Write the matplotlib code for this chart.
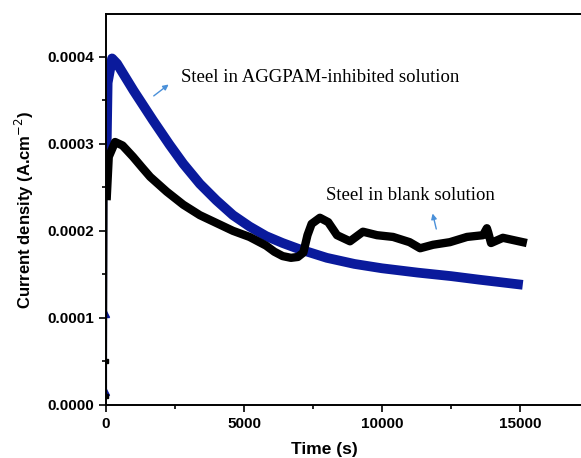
import numpy as np
import matplotlib.pyplot as plt
from matplotlib.ticker import MultipleLocator, FormatStrFormatter

# 阻害剤あり(青)
t_inh = [20, 60, 220, 400, 1000, 1700, 2300, 2800, 3400, 4000, 4600, 5200, 5800,
         6400, 7000, 8000, 9000, 10000, 11300, 12500, 13500, 14300, 15100]
j_inh = [2.9e-4, 3.7e-4, 3.98e-4, 3.92e-4, 3.61e-4, 3.27e-4, 2.99e-4, 2.77e-4,
         2.54e-4, 2.35e-4, 2.18e-4, 2.05e-4, 1.94e-4, 1.86e-4, 1.79e-4, 1.69e-4,
         1.62e-4, 1.57e-4, 1.52e-4, 1.48e-4, 1.44e-4, 1.41e-4, 1.38e-4]
t_inh_start = [0, 0, 10]
j_inh_start = [0.15e-4, 1.05e-4, 2.9e-4]

# ブランク(黒)
t_blank = [30, 100, 330, 600, 980, 1300, 1600, 2200, 2800, 3400, 4000, 4600, 5200,
           5800, 6100, 6400, 6700, 6950, 7150, 7300, 7450, 7750, 8050, 8370, 8840,
           9310, 9820, 10400, 11000, 11380, 11850, 12460, 13080, 13660, 13800,
           13850, 13950, 14380, 15100]
j_blank = [2.4e-4, 2.85e-4, 3.02e-4, 2.98e-4, 2.85e-4, 2.73e-4, 2.62e-4, 2.45e-4,
           2.30e-4, 2.18e-4, 2.09e-4, 2.00e-4, 1.93e-4, 1.83e-4, 1.76e-4, 1.71e-4,
           1.69e-4, 1.70e-4, 1.75e-4, 1.95e-4, 2.08e-4, 2.15e-4, 2.10e-4, 1.95e-4,
           1.88e-4, 1.99e-4, 1.95e-4, 1.93e-4, 1.87e-4, 1.80e-4, 1.84e-4, 1.87e-4,
           1.93e-4, 1.95e-4, 2.03e-4, 1.98e-4, 1.86e-4, 1.92e-4, 1.87e-4]
t_blank_start = [0, 0, 20]
j_blank_start = [0.1e-4, 0.5e-4, 2.4e-4]

blue = '#0a1a9c'
arrow_c = '#4a90d9'

fig = plt.figure(figsize=(5.81, 4.58), dpi=100)
ax = fig.add_axes([106/581, 53/458, 483/581, 391/458])

ax.plot(t_inh_start, j_inh_start, color=blue, lw=1.5, marker='^', ms=4, zorder=2)
ax.plot(t_inh, j_inh, color=blue, lw=7, solid_capstyle='butt',
        solid_joinstyle='round', zorder=2)
ax.plot(t_blank_start, j_blank_start, color='black', lw=1.5, marker='s', ms=3, zorder=3)
ax.plot(t_blank, j_blank, color='black', lw=6, solid_joinstyle='round', zorder=3)

ax.set_xlim(0, 17500)
ax.set_ylim(0, 0.000449)
ax.xaxis.set_major_locator(MultipleLocator(5000))
ax.xaxis.set_minor_locator(MultipleLocator(2500))
ax.yaxis.set_major_locator(MultipleLocator(0.0001))
ax.yaxis.set_minor_locator(MultipleLocator(0.00005))
ax.yaxis.set_major_formatter(FormatStrFormatter('%.4f'))
ax.tick_params(which='major', direction='out', length=5, width=1.2)
ax.tick_params(which='minor', direction='out', length=3, width=1.2)
for s in ax.spines.values():
    s.set_linewidth(1.4)

for lab in ax.get_xticklabels() + ax.get_yticklabels():
    lab.set_family('Liberation Sans')
    lab.set_weight('bold')
    lab.set_size(11)

ax.set_xlabel('Time (s)', family='Liberation Sans', weight='bold', size=12.5)
ax.set_ylabel('Current density (A.cm$^{-2}$)', family='Liberation Sans',
              weight='bold', size=12)
ax.xaxis.set_label_coords((324 - 106) / 483, -0.095)
ax.yaxis.set_label_coords(-70 / 483, 0.5)

ax.text(2720, 0.000376, 'Steel in AGGPAM-inhibited solution', family='Liberation Serif',
        size=13.5, va='center', ha='left')
ax.text(7970, 0.000241, 'Steel in blank solution', family='Liberation Serif',
        size=13.5, va='center', ha='left')
ax.annotate('', xy=(2350, 0.000370), xytext=(1650, 0.000353),
            arrowprops=dict(arrowstyle='-|>', color=arrow_c, lw=1, mutation_scale=8))
ax.annotate('', xy=(11810, 0.000223), xytext=(11990, 0.000199),
            arrowprops=dict(arrowstyle='-|>', color=arrow_c, lw=1, mutation_scale=8))

fig.savefig('out.png', dpi=100)
